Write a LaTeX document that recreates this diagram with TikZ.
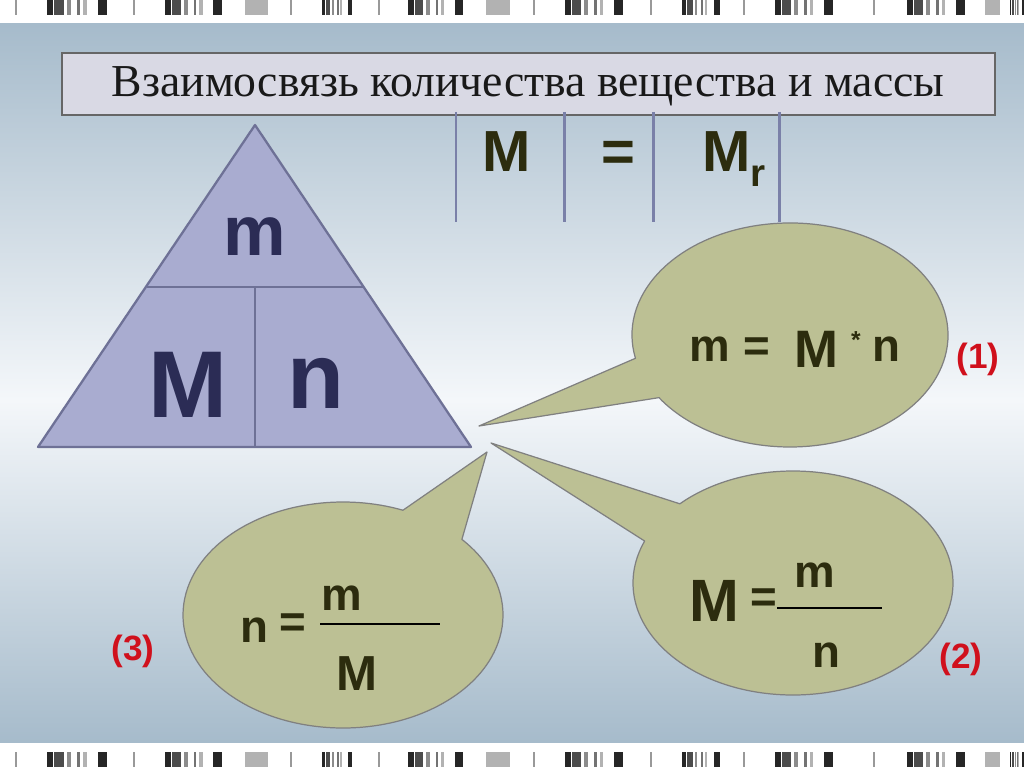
\documentclass[tikz,border=0pt]{standalone}
\usepackage{fontspec}
\setmainfont{Liberation Serif}
\newfontfamily\arialfont{Liberation Sans}
\newcommand\fs[1]{\fontsize{#1}{#1}\selectfont}

\definecolor{bgblue}{HTML}{A6BBCB}
\definecolor{bgwhite}{HTML}{F4F7FA}
\definecolor{trifill}{HTML}{A9ACD0}
\definecolor{triline}{HTML}{6E7196}
\definecolor{tritext}{HTML}{2B2C55}
\definecolor{olive}{HTML}{BCC094}
\definecolor{olivetext}{HTML}{2C2C0E}
\definecolor{numred}{HTML}{D0101C}
\definecolor{tabline}{HTML}{7A80A8}
\definecolor{titlefill}{HTML}{D9D9E4}

\usetikzlibrary{calc}

\tikzset{
  trilet/.style={font=\arialfont\bfseries, text=tritext, anchor=base, inner sep=0pt},
  olet/.style={font=\arialfont\bfseries, text=olivetext, anchor=base, inner sep=0pt},
  numlbl/.style={font=\arialfont\bfseries\fs{20}, text=numred, anchor=base, inner sep=0pt},
  bubble/.style={fill=olive, draw=black!50, line width=0.7pt, line join=round},
}

% one group of barcode bars between #1 and #2, from #3 down to #4
\newcommand\barcluster[4]{%
  \foreach \a/\b/\g in {0/0.1/85, 0.12/0.28/70, 0.33/0.4/45, 0.5/0.55/55, 0.6/0.66/30, 0.85/1/85}
    \fill[black!\g] ($(#1,#3)!\a!(#2,#3)$) rectangle ($(#1,#4)!\b!(#2,#4)$);}

\begin{document}
\begin{tikzpicture}[x=0.02cm, y=-0.02cm]
\useasboundingbox (0,0) rectangle (1024,767);

% background
\fill[white] (0,0) rectangle (1024,767);
\shade[top color=bgblue, bottom color=bgwhite] (0,24) rectangle (1024,400);
\shade[top color=bgwhite, bottom color=bgblue] (0,400) rectangle (1024,742);

% barcode strips
\foreach \ya/\yb in {0/15, 752/767}{
  \foreach \xa/\xb in {47/107, 165/222, 322/352, 408/463, 565/623, 682/720, 775/833, 907/965, 1010/1024}
    \barcluster{\xa}{\xb}{\ya}{\yb};
  \foreach \xa/\xb in {245/268, 486/510, 985/1000}
    \fill[black!30] (\xa,\ya) rectangle (\xb,\yb);
  \foreach \xa in {15, 133, 290, 378, 533, 650, 743, 873}
    \fill[black!40] (\xa,\ya) rectangle (\xa+2,\yb);
}

% title
\draw[fill=titlefill, draw=black!60, line width=1pt] (62,53) rectangle (995,115);
\node[text=black!90, font=\fs{26}] (title) at (528,86) {Взаимосвязь количества вещества и массы};

% M = Mr table
\foreach \x in {456, 564, 653, 779}
  \draw[tabline, line width=1.7pt] (\x,112) -- (\x,222);
\node[olet, font=\arialfont\bfseries\fs{33}] (molM) at (507,172) {M};
\node[olet, font=\arialfont\bfseries\fs{33}] (moleq) at (618,172) {=};
\node[olet, font=\arialfont\bfseries\fs{33}, anchor=base west] (molMr) at (702,172) {M\raisebox{-0.25em}{\fs{22}r}};

% triangle
\draw[fill=trifill, draw=triline, line width=1.3pt, line join=round] (255,125) -- (471,447) -- (38,447) -- cycle;
\draw[triline, line width=1.3pt] (147,287) -- (363,287);
\draw[triline, line width=1.3pt] (255,287) -- (255,447);
\node[trilet, font=\arialfont\bfseries\fs{40}] (tm) at (255,255) {m};
\node[trilet, font=\arialfont\bfseries\fs{54}] (tM) at (188,417) {M};
\node[trilet, font=\arialfont\bfseries\fs{53}] (tn) at (316,408) {n};

% speech bubbles
\def\bubbleone{(479,426) -- ([shift={(790,335)}]168:158 and 112) arc[start angle=168, end angle=506, x radius=158, y radius=112] -- cycle}
\def\bubbletwo{(491,443) -- ([shift={(793,583)}]225:160 and 112) arc[start angle=225, end angle=562, x radius=160, y radius=112] -- cycle}
\def\bubblethree{(487,452) -- ([shift={(343,615)}]318:160 and 113) arc[start angle=318, end angle=652, x radius=160, y radius=113] -- cycle}

\draw[bubble] \bubbleone;
\draw[bubble] \bubbletwo;
\draw[bubble] \bubblethree;

% (1)  m = M * n
\node[olet, font=\arialfont\bfseries\fs{26}] (om) at (710,361) {m};
\node[olet, font=\arialfont\bfseries\fs{26}] (oeq) at (757,361) {=};
\node[olet, font=\arialfont\bfseries\fs{30}] (oM) at (816,367) {M};
\node[olet, font=\arialfont\bfseries\fs{14}] (ostar) at (856,348) {*};
\node[olet, font=\arialfont\bfseries\fs{26}] (on) at (886,361) {n};
\node[numlbl] (one) at (978,368) {(1)};

% (2)  M = m / n
\node[olet, font=\arialfont\bfseries\fs{34}] (tM2) at (714,621) {M};
\node[olet, font=\arialfont\bfseries\fs{26}] (teq) at (764,612) {=};
\draw[black, line width=0.8pt] (777,608) -- (882,608);
\node[olet, font=\arialfont\bfseries\fs{26}] (tm2) at (815,587) {m};
\node[olet, font=\arialfont\bfseries\fs{26}] (tn2) at (826,667) {n};
\node[numlbl] (two) at (961,668) {(2)};

% (3)  n = m / M
\node[olet, font=\arialfont\bfseries\fs{26}] (hn) at (254,642) {n};
\node[olet, font=\arialfont\bfseries\fs{26}] (heq) at (293,637) {=};
\draw[black, line width=0.8pt] (320,624) -- (440,624);
\node[olet, font=\arialfont\bfseries\fs{26}] (hm) at (342,610) {m};
\node[olet, font=\arialfont\bfseries\fs{28}] (hM) at (357,690) {M};
\node[numlbl] (three) at (133,660) {(3)};

\end{tikzpicture}
\end{document}
